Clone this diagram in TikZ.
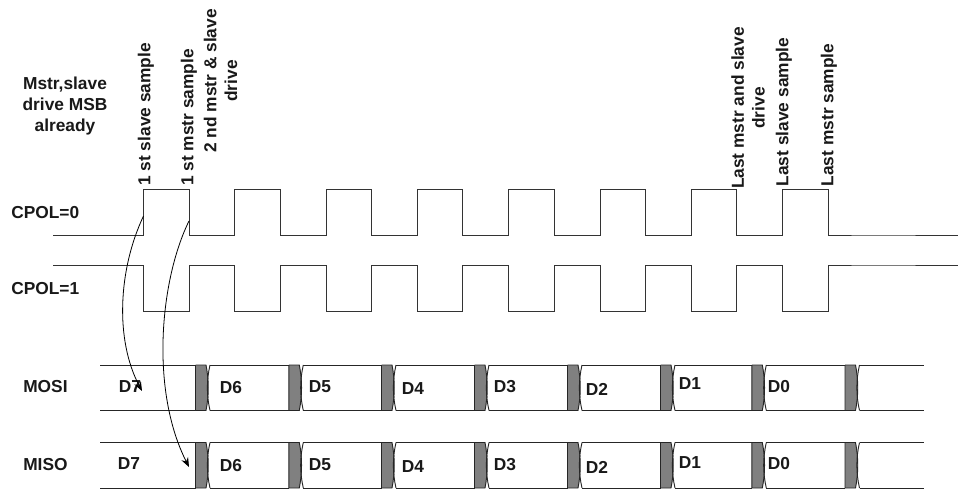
\documentclass[tikz,border=0pt]{standalone}
\usepackage{fontspec}
\setmainfont{Liberation Sans}
\usetikzlibrary{arrows.meta}
\tikzset{
 wave/.style={draw=black!80!white,line width=0.75pt},
 txt/.style={font=\bfseries\fontsize{13}{15.5}\selectfont,align=center,inner sep=0pt,text=black!90},
 vtxt/.style={txt,rotate=90},
 rowline/.style={draw=black!85,line width=0.7pt},
 flow/.style={draw=black,line width=0.6pt,-{Stealth[length=7pt,width=5.5pt]}}
}
\newcommand{\datarow}[2]{%
 \draw[rowline] (100,#1) -- (195.5,#1);
 \draw[rowline] (100,#2) -- (195.5,#2);
 \foreach \gx in {195.5,288.8,381.5,474.5,567.5,660.5,751.8,845}{
  \fill[black!50] (\gx,#1) -- (\gx+10.5,#1) .. controls (\gx+13.5,#1+15) and (\gx+13.5,#2-15) .. (\gx+10.5,#2) -- (\gx,#2) -- cycle;
  \draw[rowline] (\gx,#1) -- (\gx,#2) (\gx,#1) -- (\gx+10.5,#1) .. controls (\gx+13.5,#1+15) and (\gx+13.5,#2-15) .. (\gx+10.5,#2) -- (\gx,#2);
  \draw[rowline] (\gx+14.5,#1) .. controls (\gx+11,#1+15) and (\gx+11,#2-15) .. (\gx+14.5,#2);
 }
 \foreach \ga/\gb in {210/288.8,303.3/381.5,396/474.5,489/567.5,582/660.5,675/751.8,766.3/845}{
  \draw[rowline] (\ga,#1) -- (\gb,#1) (\ga,#2) -- (\gb,#2);
 }
 \draw[rowline] (859.5,#1) -- (924,#1) (859.5,#2) -- (924,#2);
}
\begin{document}
\begin{tikzpicture}[x=0.75pt,y=-0.75pt]
\useasboundingbox (0,0) rectangle (958,489);
\fill[white] (0,0) rectangle (958,489);
% clocks
\draw[wave] (53,235) -- (143.5,235)
 \foreach \k in {0,...,7}{ -- ({143.5+91.3*\k},235) -- ({143.5+91.3*\k},189) -- ({189+91.3*\k},189) -- ({189+91.3*\k},235) -- ({234.8+91.3*\k},235) }
 -- (958,235);
\draw[wave] (53,265) -- (143.5,265)
 \foreach \k in {0,...,7}{ -- ({143.5+91.3*\k},265) -- ({143.5+91.3*\k},311) -- ({189+91.3*\k},311) -- ({189+91.3*\k},265) -- ({234.8+91.3*\k},265) }
 -- (958,265);
% data
\datarow{365}{410.5}
\datarow{442.5}{488}
% labels
\node[txt] (head) at (65,106) {Mstr,slave\\drive MSB\\already};
\node[txt,anchor=west] (c0) at (11,213) {CPOL=0};
\node[txt,anchor=west] (c1) at (11,289) {CPOL=1};
\node[txt,anchor=west] (mosi) at (23,387) {MOSI};
\node[txt,anchor=west] (miso) at (23,465) {MISO};
\node[vtxt,anchor=west] (l1) at (146,186) {1 st slave sample};
\node[vtxt,anchor=west] (l2) at (189,186) {1 st mstr sample};
\node[vtxt] (l3) at (220.5,81) {2 nd mstr \& slave\\drive};
\node[vtxt] (l4) at (748,108) {Last mstr and slave\\drive};
\node[vtxt,anchor=west] (l5) at (784,186.5) {Last slave sample};
\node[vtxt,anchor=west] (l6) at (829,186.5) {Last mstr sample};
\node[txt] (d7a) at (130,387) {D7};
\node[txt] (d7b) at (129,464) {D7};
\foreach \x/\ya/\yb/\t in {231/388/466/D6,320/387/465/D5,413/389/467/D4,505/387/465/D3,597/389/467/D2,690/384/463/D1,779/387/464/D0}{
 \node[txt] (da\t) at (\x,\ya) {\t};
 \node[txt] (db\t) at (\x,\yb) {\t};
}
% arrows
\coordinate (e1) at (143.5,216);
\coordinate (e2) at (189,221);
\coordinate (t1) at (142,391);
\coordinate (t2) at (189,467);
\draw[flow] (e1) .. controls (118,270) and (115,340) .. (t1);
\draw[flow] (e2) .. controls (160,280) and (150,390) .. (t2);
\end{tikzpicture}
\end{document}
